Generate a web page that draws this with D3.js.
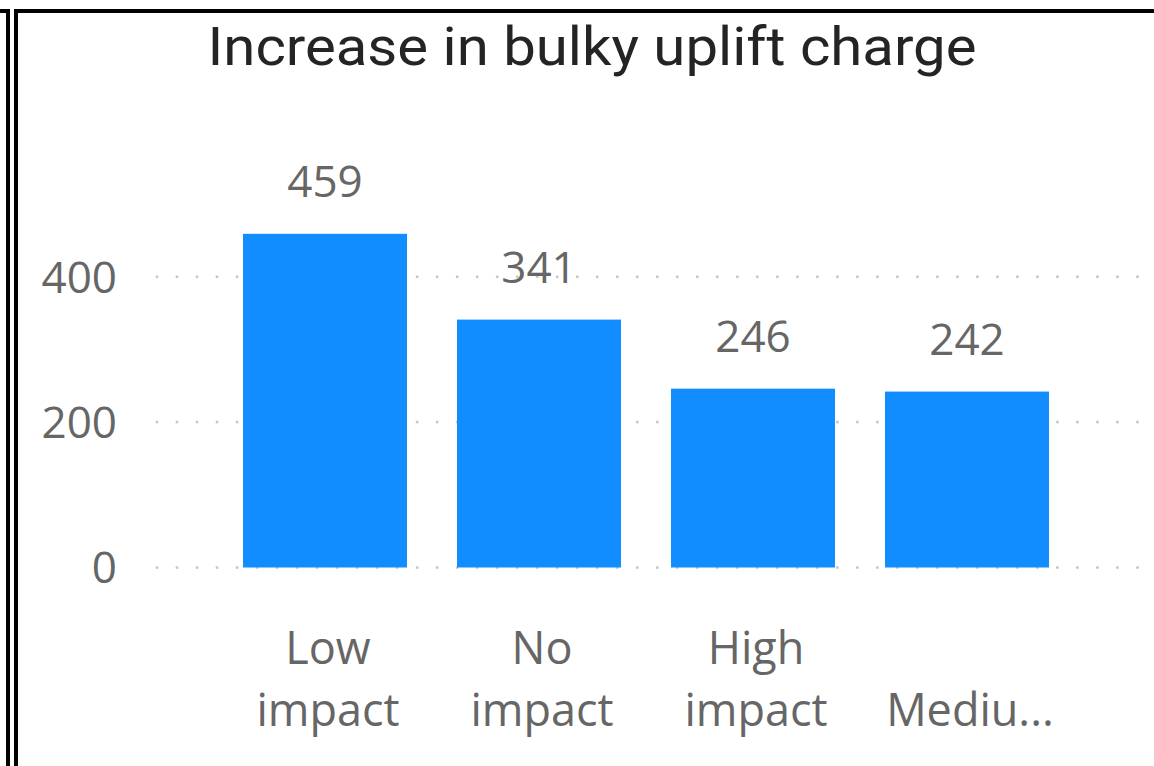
<!DOCTYPE html>
<html>
<head>
<meta charset="utf-8">
<script src="https://cdn.jsdelivr.net/npm/d3@7"></script>
<style>
  html, body { margin: 0; padding: 0; background: #fff; }
  svg { display: block; }
</style>
</head>
<body>
<svg id="chart" width="1154" height="766"></svg>
<script>
const title = "Increase in bulky uplift charge";
const categories = ["Low impact", "No impact", "High impact", "Medium impact"];
const values = [459, 341, 246, 242];
const tickLabelLines = [["Low", "impact"], ["No", "impact"], ["High", "impact"], ["", "Mediu..."]];
const yTicks = [0, 200, 400];

const svg = d3.select("#chart");
const W = 1154, H = 766;

// frame borders
svg.append("rect").attr("x", 6).attr("y", 9).attr("width", 4).attr("height", H).attr("fill", "#000");
svg.append("rect").attr("x", 0).attr("y", 9).attr("width", 10).attr("height", 4).attr("fill", "#000");
svg.append("rect").attr("x", 14).attr("y", 9).attr("width", 4).attr("height", H).attr("fill", "#000");
svg.append("rect").attr("x", 14).attr("y", 9).attr("width", W - 14).attr("height", 4).attr("fill", "#000");

// title
const t = svg.append("text")
  .attr("x", 592).attr("y", 65)
  .attr("text-anchor", "middle")
  .attr("font-family", "Roboto, 'DejaVu Sans', sans-serif")
  .attr("font-weight", 400)
  .attr("font-size", 54)
  .attr("fill", "#252423")
  .text(title);
t.attr("textLength", 769).attr("lengthAdjust", "spacingAndGlyphs");

const x = d3.scaleBand().domain(categories).range([218, 1074])
  .paddingInner(0.2336).paddingOuter(0.1168);
const y = d3.scaleLinear().domain([0, 500]).range([567.5, 204]);

const font = "'Open Sans', 'Segoe UI', sans-serif";
const gray = "#666666";

// gridlines
svg.append("g").selectAll("line").data(yTicks).join("line")
  .attr("x1", 157).attr("x2", 1142)
  .attr("y1", d => y(d)).attr("y2", d => y(d))
  .attr("stroke", "#c8c8c8").attr("stroke-width", 3)
  .attr("stroke-linecap", "round")
  .attr("stroke-dasharray", "0.01 20");

// y axis labels
const yAxis = d3.axisLeft(y).tickValues(yTicks).tickSize(0).tickPadding(0);
const yg = svg.append("g").attr("transform", "translate(117,0)").call(yAxis);
yg.select(".domain").remove();
yg.selectAll("text")
  .attr("font-family", font).attr("font-size", 44).attr("fill", gray)
  .attr("dy", "0.35em");

// bars
svg.append("g").selectAll("rect").data(values).join("rect")
  .attr("x", (d, i) => x(categories[i]))
  .attr("width", x.bandwidth())
  .attr("y", d => y(d))
  .attr("height", d => y(0) - y(d))
  .attr("fill", "#118dff");

// value labels
svg.append("g").selectAll("text").data(values).join("text")
  .attr("x", (d, i) => x(categories[i]) + x.bandwidth() / 2)
  .attr("y", d => y(d) - 37)
  .attr("text-anchor", "middle")
  .attr("font-family", font).attr("font-size", 44).attr("fill", gray)
  .text(d => d);

// x tick labels
const xg = svg.append("g");
categories.forEach((c, i) => {
  const cx = x(c) + x.bandwidth() / 2;
  tickLabelLines[i].forEach((line, j) => {
    xg.append("text")
      .attr("x", cx + 3).attr("y", 664 + j * 62)
      .attr("text-anchor", "middle")
      .attr("font-family", font).attr("font-size", 45).attr("fill", gray)
      .text(line);
  });
});
</script>
</body>
</html>
